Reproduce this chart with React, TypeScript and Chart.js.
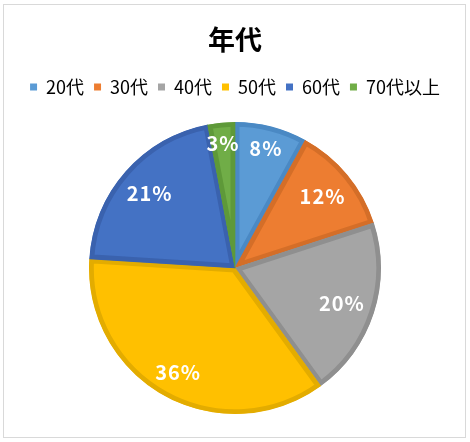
import { useEffect, useRef } from 'react';
import { Chart, registerables, Plugin } from 'chart.js';

Chart.register(...registerables);

const categories = ['20代', '30代', '40代', '50代', '60代', '70代以上'];
const shares = [8, 12, 20, 36, 21, 3];
const fillColors = ['#5B9BD5', '#ED7D31', '#A5A5A5', '#FFC000', '#4472C4', '#70AD47'];
const edgeColors = ['#4A89C4', '#D46E28', '#8F8F8F', '#E3AC00', '#3A62AE', '#5E9939'];

const FONT = '"Noto Sans CJK JP", "Noto Sans", sans-serif';

// percentage labels inside each slice, pushed out toward the rim
const sliceLabels: Plugin<'pie'> = {
  id: 'sliceLabels',
  afterDatasetsDraw(chart) {
    const { ctx } = chart;
    const meta = chart.getDatasetMeta(0);
    const total = shares.reduce((a, b) => a + b, 0);
    ctx.save();
    ctx.font = `bold 20px ${FONT}`;
    (ctx as any).letterSpacing = '1px';
    ctx.fillStyle = '#ffffff';
    ctx.textAlign = 'center';
    ctx.textBaseline = 'middle';
    meta.data.forEach((el, i) => {
      const { x, y, startAngle, endAngle, outerRadius } = el.getProps(
        ['x', 'y', 'startAngle', 'endAngle', 'outerRadius'],
        true
      ) as any;
      const mid = (startAngle + endAngle) / 2;
      const text = Math.round((shares[i] / total) * 100) + '%';
      const hw = ctx.measureText(text).width / 2;
      const hh = 9;
      const dx = Math.cos(mid);
      const dy = Math.sin(mid);
      const r = outerRadius - 9 - (Math.abs(hw * dx) + Math.abs(hh * dy));
      ctx.fillText(text, x + dx * r, y + dy * r + 1);
    });
    ctx.restore();
  },
};

export default function App() {
  const canvasRef = useRef<HTMLCanvasElement>(null);
  const chartRef = useRef<Chart<'pie', number[], string> | null>(null);

  useEffect(() => {
    document.body.style.margin = '0';
    if (chartRef.current) chartRef.current.destroy();
    if (!canvasRef.current) return;

    chartRef.current = new Chart(canvasRef.current, {
      type: 'pie',
      data: {
        labels: categories,
        datasets: [
          {
            data: shares,
            backgroundColor: fillColors,
            borderColor: edgeColors,
            borderWidth: 4.5,
            borderAlign: 'inner',
          },
        ],
      },
      options: {
        responsive: false,
        animation: false,
        events: [],
        layout: { padding: { top: 0, bottom: 28, left: 0, right: 0 } },
        plugins: {
          title: {
            display: true,
            text: '年代',
            color: '#000000',
            font: { family: FONT, size: 27, weight: 'bold', lineHeight: 1.2 },
            padding: { top: 24, bottom: 11.6 },
          },
          // empty spacer between legend and pie
          subtitle: {
            display: true,
            text: '',
            weight: 500,
            padding: 0,
            font: { size: 16, lineHeight: 1 },
          } as any,
          legend: {
            position: 'top',
            labels: {
              color: '#000000',
              font: { family: FONT, size: 18 },
              boxWidth: 7,
              boxHeight: 7,
              padding: 10,
              generateLabels: () =>
                categories.map((c, i) => ({
                  text: c,
                  fillStyle: fillColors[i],
                  strokeStyle: fillColors[i],
                  lineWidth: 0,
                  hidden: false,
                  index: i,
                })),
            },
          },
          tooltip: { enabled: false },
        },
      },
      plugins: [sliceLabels],
    });

    return () => {
      if (chartRef.current) {
        chartRef.current.destroy();
        chartRef.current = null;
      }
    };
  }, []);

  return (
    <div style={{ position: 'relative', width: 470, height: 442, background: '#ffffff' }}>
      <div
        style={{
          position: 'absolute',
          left: 3,
          top: 4,
          width: 461,
          height: 432,
          border: '1.5px solid #d9d9d9',
        }}
      />
      <canvas
        ref={canvasRef}
        width={470}
        height={442}
        style={{ position: 'absolute', left: 0, top: 0 }}
      />
    </div>
  );
}
